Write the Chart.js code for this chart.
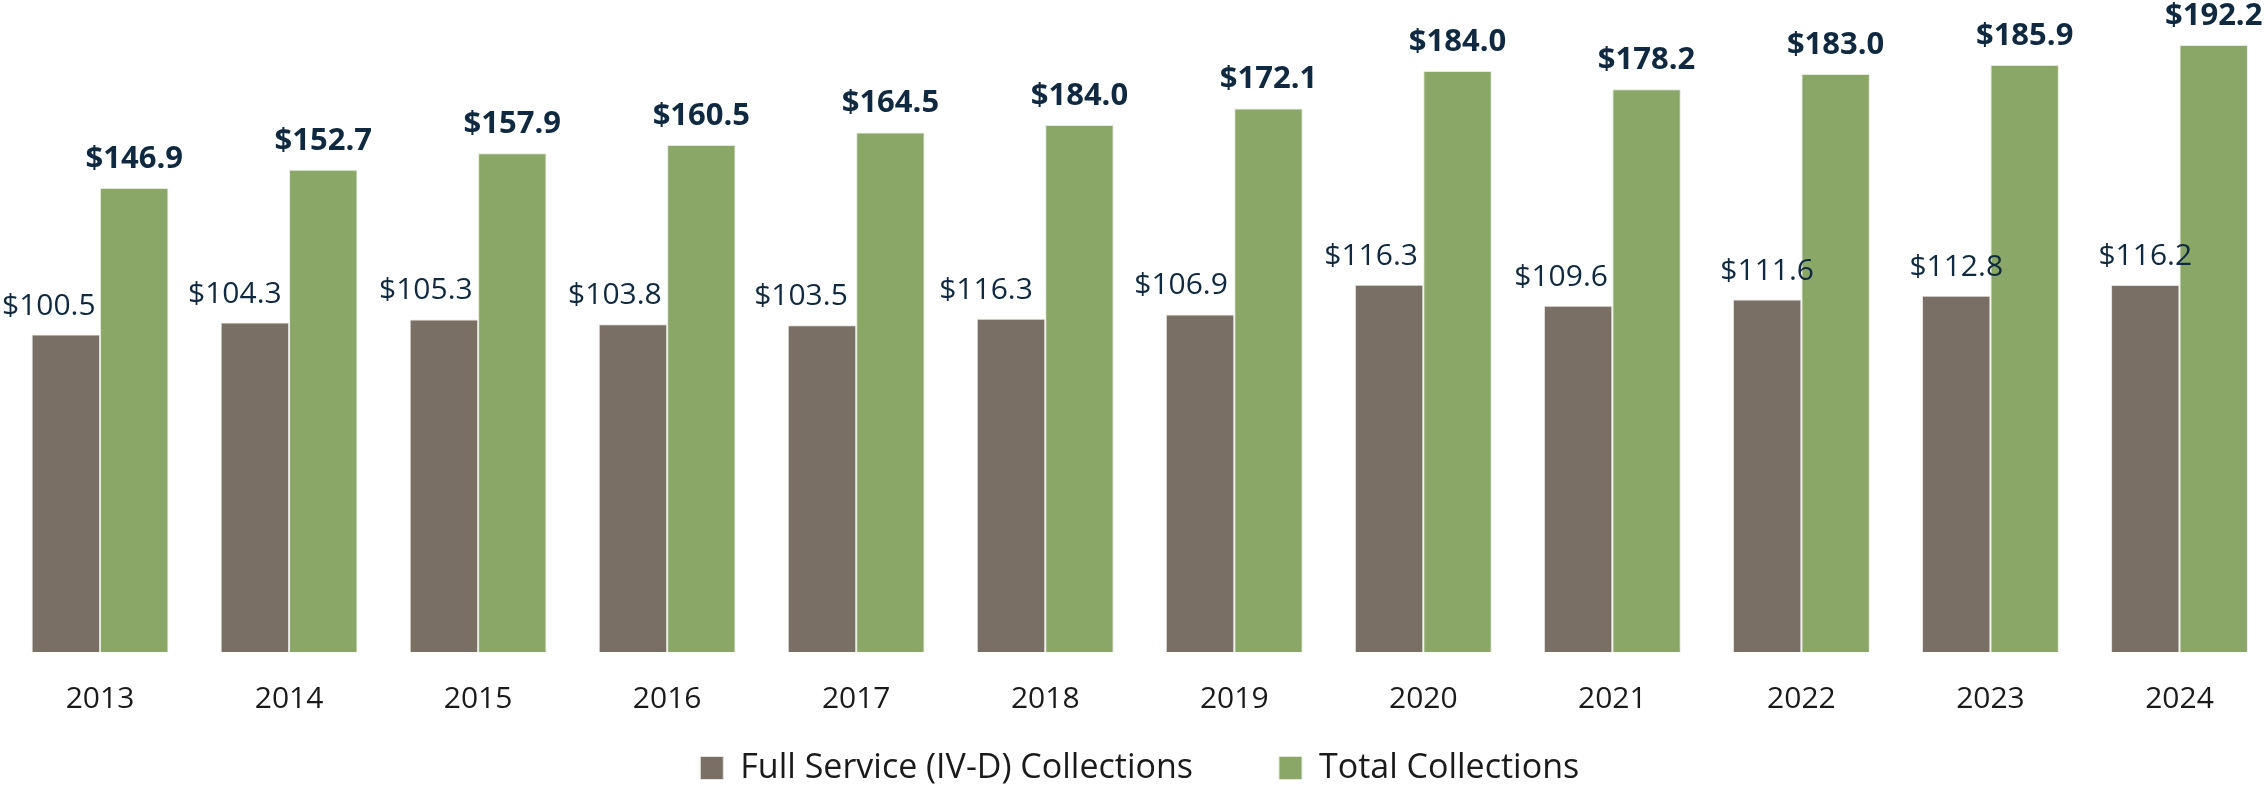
<!DOCTYPE html>
<html>
<head>
  <meta charset="utf-8">
  <title>Collections 2013-2024</title>
  <script src="https://cdn.jsdelivr.net/npm/chart.js"></script>
  <style>
    html, body {
      margin: 0;
      padding: 0;
      background: #fff;
      overflow: hidden;
    }
    #wrap {
      width: 2274px;
      height: 789px;
    }
  </style>
</head>
<body>
  <div id="wrap">
    <canvas id="collectionsChart"></canvas>
  </div>

  <script>
    // ------------------- DATA --------------------
    const years = ['2013', '2014', '2015', '2016', '2017', '2018', '2019', '2020', '2021', '2022', '2023', '2024'];

    // bar heights as drawn (2018 bars are shorter than their printed labels)
    const fullService = [100.5, 104.3, 105.3, 103.8, 103.5, 105.5, 106.9, 116.3, 109.6, 111.6, 112.8, 116.2];
    const totalCollections = [146.9, 152.7, 157.9, 160.5, 164.5, 166.9, 172.1, 184.0, 178.2, 183.0, 185.9, 192.2];

    // printed value labels
    const fullServiceLabels = ['$100.5', '$104.3', '$105.3', '$103.8', '$103.5', '$116.3', '$106.9', '$116.3', '$109.6', '$111.6', '$112.8', '$116.2'];
    const totalLabels = ['$146.9', '$152.7', '$157.9', '$160.5', '$164.5', '$184.0', '$172.1', '$184.0', '$178.2', '$183.0', '$185.9', '$192.2'];

    // horizontal nudge of the brown labels (px)
    const fullServiceShift = [-17, -20, -18, -18, -21, -25, -19, -18, -17, 0, 0, 0];

    const BROWN = '#7a6f65';
    const GREEN = '#8aa768';
    const LABEL_NAVY = '#0f2940';
    const TEXT = '#1a1a1a';
    const FONT = '"Open Sans", "Noto Sans", sans-serif';

    // ------------------- VALUE LABELS --------------------
    const valueLabels = {
      id: 'valueLabels',
      afterDatasetsDraw(chart) {
        const ctx = chart.ctx;
        chart.data.datasets.forEach((ds, i) => {
          const meta = chart.getDatasetMeta(i);
          meta.data.forEach((bar, j) => {
            ctx.save();
            ctx.font = ds.labelFont;
            ctx.fillStyle = LABEL_NAVY;
            ctx.textAlign = 'center';
            ctx.textBaseline = 'alphabetic';
            const dx = ds.labelShift ? ds.labelShift[j] : 0;
            ctx.fillText(ds.valueText[j], bar.x + dx, bar.y - 20);
            ctx.restore();
          });
        });
      }
    };

    // ------------------- CHART --------------------
    const chart = new Chart(document.getElementById('collectionsChart'), {
      type: 'bar',
      data: {
        labels: years,
        datasets: [
          {
            label: 'Full Service (IV-D) Collections',
            data: fullService,
            backgroundColor: BROWN,
            borderColor: '#e4e2de',
            borderWidth: 1,
            valueText: fullServiceLabels,
            labelShift: fullServiceShift,
            labelFont: '30px ' + FONT
          },
          {
            label: 'Total Collections',
            data: totalCollections,
            backgroundColor: GREEN,
            borderColor: '#e4e9dc',
            borderWidth: 1,
            valueText: totalLabels,
            labelFont: 'bold 31px ' + FONT
          }
        ]
      },
      options: {
        responsive: true,
        maintainAspectRatio: false,
        animation: false,
        datasets: {
          bar: {
            categoryPercentage: 0.724,
            barPercentage: 1.0
          }
        },
        layout: {
          padding: { left: 5.5, right: 0, top: 0, bottom: -6 }
        },
        scales: {
          x: {
            grid: { display: false, drawTicks: false },
            border: { display: false },
            ticks: {
              color: TEXT,
              padding: 29,
              font: { family: FONT, size: 30, lineHeight: 1.2 }
            }
          },
          y: {
            display: false,
            min: 0,
            max: 206.45
          }
        },
        plugins: {
          legend: {
            position: 'bottom',
            // empty title with negative padding pulls the legend row up,
            // so the wide item padding doesn't push it off the bottom
            title: {
              display: true,
              text: '',
              font: { size: 1, lineHeight: 1 },
              padding: { top: 0, bottom: -82 }
            },
            labels: {
              color: TEXT,
              boxWidth: 23,
              boxHeight: 23,
              padding: 86,
              font: { family: FONT, size: 34 }
            }
          },
          tooltip: { enabled: false }
        }
      },
      plugins: [valueLabels]
    });
  </script>
</body>
</html>
